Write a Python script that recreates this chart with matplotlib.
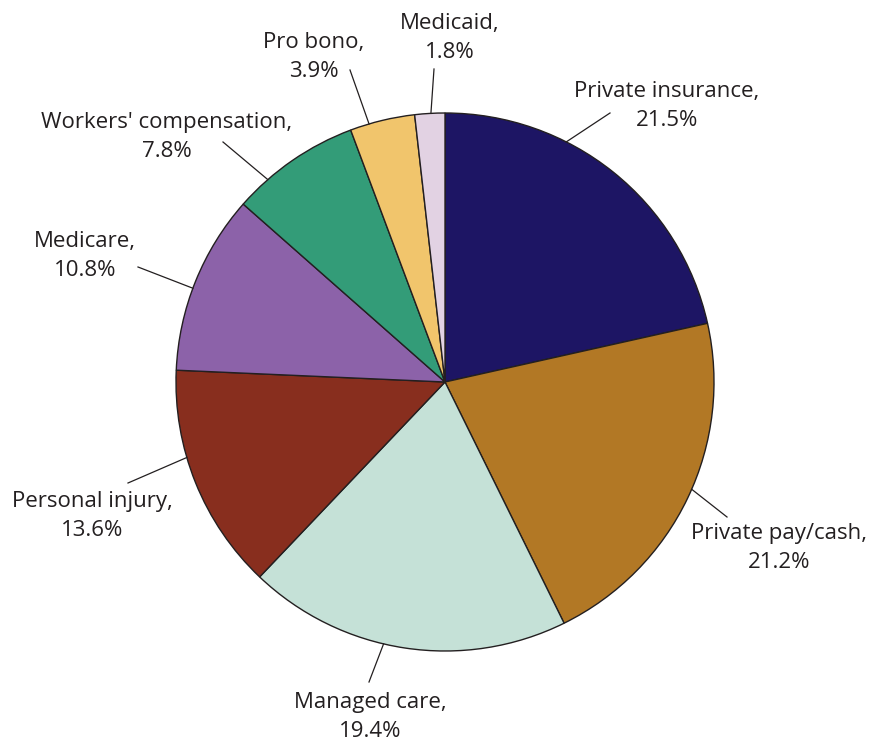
import numpy as np
import matplotlib
matplotlib.use('Agg')
import matplotlib.pyplot as plt

# payer mix, clockwise from 12 o'clock
categories = ['Private insurance', 'Private pay/cash', 'Managed care',
              'Personal injury', 'Medicare', "Workers' compensation",
              'Pro bono', 'Medicaid']
shares = [21.5, 21.2, 19.4, 13.6, 10.8, 7.8, 3.9, 1.8]
colors = ['#1d1564', '#b27825', '#c5e1d7', '#882e1e', '#8c62a9',
          '#339c78', '#f1c56c', '#e2d2e3']

W, H = 872, 743
CX, CY, R = 445, 382, 269   # pie centre / radius in pixels (y from top)

# label layout: text centre, leader end near text, leader angle on the rim
label_pos = [(667, 106), (779, 548), (370, 717), (92, 516),
             (85, 256), (167, 137), (314, 57), (450, 38)]
leader_end = [(610, 113), (727, 517), (369, 682), (128, 483),
              (138, 267), (223, 142), (350, 70), (434, 69)]
leader_angle = [63.2, -23.5, -103.2, 196.3, 159.6, 131.2, 106.4, 93.0]

plt.rcParams['font.family'] = ['Open Sans', 'DejaVu Sans']
ink = '#231f20'

fig = plt.figure(figsize=(W / 100, H / 100), dpi=100)
ax = fig.add_axes([0, 0, 1, 1])

ax.pie(shares, colors=colors, startangle=90, counterclock=False,
       radius=R, center=(CX, H - CY),
       wedgeprops=dict(edgecolor=ink, linewidth=1.0))

for name, val, (tx, ty), (lx, ly), ang in zip(categories, shares, label_pos,
                                              leader_end, leader_angle):
    a = np.deg2rad(ang)
    ex, ey = CX + R * np.cos(a), (H - CY) + R * np.sin(a)
    ax.plot([ex, lx], [ey, H - ly], color=ink, linewidth=0.9)
    ax.text(tx, H - ty, f'{name},\n{val:.1f}%', ha='center', va='center',
            fontsize=16, color=ink, linespacing=1.45)

ax.set_xlim(0, W)
ax.set_ylim(0, H)
ax.set_aspect('auto')
ax.axis('off')

fig.savefig('out.png', dpi=100, facecolor='white')
